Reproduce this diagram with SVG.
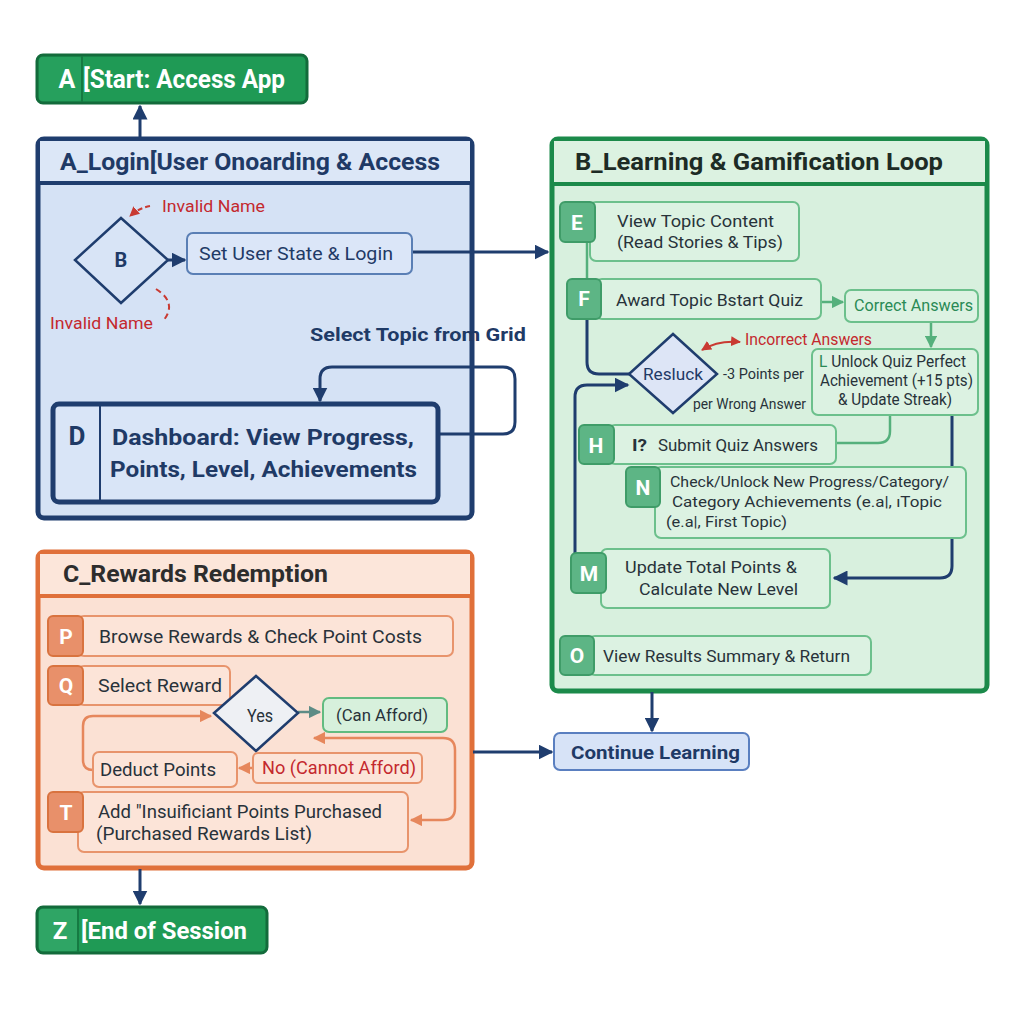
<svg xmlns="http://www.w3.org/2000/svg" width="1024" height="1024" viewBox="0 0 1024 1024">
<defs>
<style>
text{font-family:Roboto,"Liberation Sans",Arial,sans-serif}
.title{font-size:24px;font-weight:bold}
.bold{font-weight:bold}
.nv{fill:#1f3a66}
.dk{fill:#28323a}
.red{fill:#c4292e}
.wh{fill:#ffffff;font-weight:bold}
.c-nav{fill:none;stroke:#1f3d6e;stroke-width:3}
.c-grn{fill:none;stroke:#55b07c;stroke-width:2.5}
.c-org{fill:none;stroke:#e6875c;stroke-width:2.5}
.c-red{fill:none;stroke:#c93a32;stroke-width:2}
.gbox{fill:#dcf2e2;stroke:#6cc08c;stroke-width:2}
.gbadge{fill:#5db585;stroke:#3f9c68;stroke-width:2}
.obox{fill:#fce4d8;stroke:#e8946c;stroke-width:2}
.obadge{fill:#e8906a;stroke:#d9733f;stroke-width:2}
</style>
<marker id="an" viewBox="0 0 10 10" refX="9" refY="5" markerWidth="5" markerHeight="5" orient="auto-start-reverse"><path d="M0,0 L10,5 L0,10 z" fill="#1f3d6e"/></marker>
<marker id="ag" viewBox="0 0 10 10" refX="9" refY="5" markerWidth="5" markerHeight="5" orient="auto-start-reverse"><path d="M0,0 L10,5 L0,10 z" fill="#55b07c"/></marker>
<marker id="ao" viewBox="0 0 10 10" refX="9" refY="5" markerWidth="5" markerHeight="5" orient="auto-start-reverse"><path d="M0,0 L10,5 L0,10 z" fill="#e6875c"/></marker>
<marker id="ar" viewBox="0 0 10 10" refX="9" refY="5" markerWidth="5" markerHeight="5" orient="auto-start-reverse"><path d="M0,0 L10,5 L0,10 z" fill="#c93a32"/></marker>
<marker id="at" viewBox="0 0 10 10" refX="9" refY="5" markerWidth="5" markerHeight="5" orient="auto-start-reverse"><path d="M0,0 L10,5 L0,10 z" fill="#5d8c86"/></marker>
</defs>
<rect width="1024" height="1024" fill="#ffffff"/>

<!-- Containers -->
<g id="A_Login">
<rect x="38" y="139" width="434" height="379" rx="6" fill="#d5e2f5" stroke="#1f3d6e" stroke-width="5"/>
<rect x="40" y="141" width="430" height="42" fill="#dce7f7"/>
<line x1="38" y1="183" x2="472" y2="183" stroke="#1f3d6e" stroke-width="4"/>
<text x="60" y="170" class="title nv" textLength="380" lengthAdjust="spacingAndGlyphs">A_Login[User Onoarding &amp; Access</text>
</g>
<g id="B_Learning">
<rect x="552" y="139" width="435" height="552" rx="6" fill="#d8f0de" stroke="#1b8a4a" stroke-width="5"/>
<rect x="554" y="141" width="431" height="42" fill="#dcf2e1"/>
<line x1="552" y1="184" x2="987" y2="184" stroke="#1b8a4a" stroke-width="4"/>
<text x="575" y="170" class="title" fill="#1d2b25" textLength="368" lengthAdjust="spacingAndGlyphs">B_Learning &amp; Gamification Loop</text>
</g>
<g id="C_Rewards">
<rect x="38" y="552" width="434" height="316" rx="6" fill="#fbe1d4" stroke="#e0703a" stroke-width="5"/>
<rect x="40" y="554" width="430" height="42" fill="#fce6da"/>
<line x1="38" y1="596" x2="472" y2="596" stroke="#e0703a" stroke-width="4"/>
<text x="63" y="582" class="title" fill="#2d2d2d" textLength="265" lengthAdjust="spacingAndGlyphs">C_Rewards Redemption</text>
</g>

<!-- Connectors -->
<g id="connectors">
<path class="c-nav" d="M140 137 V106" marker-end="url(#an)"/>
<path class="c-nav" d="M168 260 H185" marker-end="url(#an)"/>
<path class="c-nav" d="M412 252 H548" marker-end="url(#an)"/>
<path class="c-nav" d="M438 434 H503 Q515 434 515 422 V379 Q515 367 503 367 H332 Q320 367 320 379 V401" marker-end="url(#an)"/>
<path class="c-red" d="M150 206 Q139 208 130 216" stroke-dasharray="5 3" marker-end="url(#ar)"/>
<path class="c-red" d="M156 289 Q178 303 163 321" stroke-dasharray="6 4"/>
<path class="c-grn" d="M587 242 V279"/>
<path class="c-grn" d="M821 302 H843" marker-end="url(#ag)"/>
<path class="c-grn" d="M931 322 V347" marker-end="url(#ag)"/>
<path class="c-grn" d="M890 415 V431 Q890 443 878 443 H837"/>
<path class="c-nav" d="M587 319 V362 Q587 374 599 374 H630"/>
<path class="c-nav" d="M575 553 V397 Q575 385 587 385 H628" marker-end="url(#an)"/>
<path class="c-nav" d="M952 415 V566 Q952 578 940 578 H834" marker-end="url(#an)"/>
<path class="c-red" d="M702 350 Q718 340 740 342" marker-start="url(#ar)" marker-end="url(#ar)"/>
<path class="c-nav" d="M652 692 V731" marker-end="url(#an)"/>
<path class="c-nav" d="M473 752 H552" marker-end="url(#an)"/>
<path class="c-nav" d="M140 869 V904" marker-end="url(#an)"/>
<path class="c-org" d="M93 770 Q83 770 83 760 V726 Q83 716 93 716 H211" marker-end="url(#ao)"/>
<path class="c-org" d="M314 738 H443 Q455 738 455 750 V808 Q455 820 443 820 H411" marker-start="url(#ao)" marker-end="url(#ao)"/>
<path class="c-org" d="M253 768 H239" marker-end="url(#ao)"/>
<path fill="none" stroke="#5d8c86" stroke-width="2.5" d="M298 712 H320" marker-end="url(#at)"/>
</g>

<!-- Start / End -->
<g id="A">
<rect x="37" y="55" width="270" height="48" rx="6" fill="#1f9a55" stroke="#136b3b" stroke-width="3"/>
<rect x="39" y="57" width="43" height="44" rx="4" fill="#26a05d"/>
<line x1="82" y1="56" x2="82" y2="102" stroke="#157a42" stroke-width="2"/>
<text x="67" y="88" class="wh" font-size="25" text-anchor="middle">A</text>
<text x="83" y="88" class="wh" font-size="25" textLength="202" lengthAdjust="spacingAndGlyphs">[Start: Access App</text>
</g>
<g id="Z">
<rect x="37" y="907" width="230" height="46" rx="6" fill="#1f9a55" stroke="#136b3b" stroke-width="3"/>
<rect x="39" y="909" width="39" height="42" rx="4" fill="#2fa565"/>
<line x1="78" y1="908" x2="78" y2="952" stroke="#157a42" stroke-width="2"/>
<text x="60" y="939" class="wh" font-size="24" text-anchor="middle">Z</text>
<text x="81" y="939" class="wh" font-size="24" textLength="166" lengthAdjust="spacingAndGlyphs">[End of Session</text>
</g>

<!-- A_Login nodes -->
<g id="B">
<polygon points="121,218 168,260 121,303 75,260" fill="#d8e4f6" stroke="#1f3d6e" stroke-width="2.5"/>
<text x="121" y="267" class="nv bold" font-size="20" text-anchor="middle">B</text>
</g>
<g id="invalid_labels">
<text x="162" y="212" class="red" font-size="17" textLength="103" lengthAdjust="spacingAndGlyphs">Invalid Name</text>
<text x="50" y="329" class="red" font-size="17" textLength="103" lengthAdjust="spacingAndGlyphs">Invalid Name</text>
</g>
<g id="C_set">
<rect x="187" y="233" width="225" height="41" rx="6" fill="#dbe6f8" stroke="#5a7fb5" stroke-width="2"/>
<text x="199" y="260" class="nv" font-size="19" textLength="194" lengthAdjust="spacingAndGlyphs">Set User State &amp; Login</text>
</g>
<text x="310" y="341" class="nv bold" font-size="19" textLength="216" lengthAdjust="spacingAndGlyphs">Select Topic from Grid</text>
<g id="D">
<rect x="53" y="404" width="385" height="98" rx="6" fill="#d9e5f7" stroke="#1f3d6e" stroke-width="5"/>
<line x1="100" y1="406" x2="100" y2="500" stroke="#1f3d6e" stroke-width="2"/>
<text x="77" y="445" class="nv bold" font-size="26" text-anchor="middle">D</text>
<text x="112" y="445" class="nv bold" font-size="22" textLength="302" lengthAdjust="spacingAndGlyphs">Dashboard: View Progress,</text>
<text x="110" y="477" class="nv bold" font-size="22" textLength="307" lengthAdjust="spacingAndGlyphs">Points, Level, Achievements</text>
</g>

<!-- B_Learning nodes -->
<g id="E">
<rect x="590" y="202" width="209" height="59" rx="6" class="gbox"/>
<rect x="560" y="202" width="35" height="40" rx="5" class="gbadge"/>
<text x="577" y="230" class="wh" font-size="21" text-anchor="middle">E</text>
<text x="617" y="227" class="dk" font-size="17" textLength="157" lengthAdjust="spacingAndGlyphs">View Topic Content</text>
<text x="617" y="248" class="dk" font-size="17" textLength="166" lengthAdjust="spacingAndGlyphs">(Read Stories &amp; Tips)</text>
</g>
<g id="F">
<rect x="596" y="279" width="225" height="40" rx="6" class="gbox"/>
<rect x="567" y="279" width="34" height="40" rx="5" class="gbadge"/>
<text x="584" y="306" class="wh" font-size="21" text-anchor="middle">F</text>
<text x="616" y="306" class="dk" font-size="17" textLength="187" lengthAdjust="spacingAndGlyphs">Award Topic Bstart Quiz</text>
</g>
<g id="Correct">
<rect x="845" y="290" width="133" height="32" rx="6" class="gbox"/>
<text x="854" y="311" font-size="16" fill="#2a8a55" textLength="119" lengthAdjust="spacingAndGlyphs">Correct Answers</text>
</g>
<g id="Resluck">
<polygon points="673,334 717,374 673,413 629,374" fill="#dde5f6" stroke="#1f3d6e" stroke-width="2.5"/>
<text x="643" y="380" class="nv" font-size="17" textLength="60" lengthAdjust="spacingAndGlyphs">Resluck</text>
</g>
<g id="resluck_labels">
<text x="745" y="345" class="red" font-size="16" textLength="127" lengthAdjust="spacingAndGlyphs">Incorrect Answers</text>
<text x="723" y="379" class="dk" font-size="14" textLength="81" lengthAdjust="spacingAndGlyphs">-3 Points per</text>
<text x="693" y="409" class="dk" font-size="14" textLength="113" lengthAdjust="spacingAndGlyphs">per Wrong Answer</text>
</g>
<g id="L">
<rect x="812" y="349" width="166" height="66" rx="6" class="gbox"/>
<text x="819" y="367" class="dk" font-size="16" textLength="147" lengthAdjust="spacingAndGlyphs"><tspan fill="#2a8a55">L</tspan> Unlock Quiz Perfect</text>
<text x="820" y="386" class="dk" font-size="16" textLength="153" lengthAdjust="spacingAndGlyphs">Achievement (+15 pts)</text>
<text x="838" y="405" class="dk" font-size="16" textLength="114" lengthAdjust="spacingAndGlyphs">&amp; Update Streak)</text>
</g>
<g id="H">
<rect x="609" y="425" width="227" height="39" rx="6" class="gbox"/>
<rect x="579" y="425" width="35" height="39" rx="5" class="gbadge"/>
<text x="596" y="453" class="wh" font-size="21" text-anchor="middle">H</text>
<text x="632" y="451" class="dk" font-size="17" font-weight="bold" textLength="15" lengthAdjust="spacingAndGlyphs">I?</text>
<text x="658" y="451" class="dk" font-size="17" textLength="160" lengthAdjust="spacingAndGlyphs">Submit Quiz Answers</text>
</g>
<g id="N">
<rect x="655" y="467" width="311" height="71" rx="6" class="gbox"/>
<rect x="626" y="467" width="34" height="40" rx="5" class="gbadge"/>
<text x="643" y="495" class="wh" font-size="21" text-anchor="middle">N</text>
<text x="670" y="487" class="dk" font-size="15.5" textLength="279" lengthAdjust="spacingAndGlyphs">Check/Unlock New Progress/Category/</text>
<text x="672" y="507" class="dk" font-size="15.5" textLength="270" lengthAdjust="spacingAndGlyphs">Category Achievements (e.a|, ıTopic</text>
<text x="666" y="527" class="dk" font-size="15.5" textLength="121" lengthAdjust="spacingAndGlyphs">(e.a|, First Topic)</text>
</g>
<g id="M">
<rect x="601" y="549" width="229" height="59" rx="6" class="gbox"/>
<rect x="571" y="553" width="35" height="40" rx="5" class="gbadge"/>
<text x="589" y="581" class="wh" font-size="21" text-anchor="middle">M</text>
<text x="625" y="573" class="dk" font-size="17" textLength="172" lengthAdjust="spacingAndGlyphs">Update Total Points &amp;</text>
<text x="639" y="595" class="dk" font-size="17" textLength="159" lengthAdjust="spacingAndGlyphs">Calculate New Level</text>
</g>
<g id="O">
<rect x="589" y="636" width="282" height="39" rx="6" class="gbox"/>
<rect x="560" y="636" width="34" height="39" rx="5" class="gbadge"/>
<text x="577" y="663" class="wh" font-size="21" text-anchor="middle">O</text>
<text x="603" y="662" class="dk" font-size="17" textLength="247" lengthAdjust="spacingAndGlyphs">View Results Summary &amp; Return</text>
</g>
<g id="Continue">
<rect x="554" y="733" width="195" height="37" rx="6" fill="#d7e3f7" stroke="#5a7fc0" stroke-width="2"/>
<text x="571" y="759" class="nv bold" font-size="19" textLength="169" lengthAdjust="spacingAndGlyphs">Continue Learning</text>
</g>

<!-- C_Rewards nodes -->
<g id="P">
<rect x="78" y="616" width="375" height="40" rx="6" class="obox"/>
<rect x="48" y="616" width="35" height="40" rx="5" class="obadge"/>
<text x="66" y="644" class="wh" font-size="21" text-anchor="middle">P</text>
<text x="99" y="643" class="dk" font-size="18" textLength="323" lengthAdjust="spacingAndGlyphs">Browse Rewards &amp; Check Point Costs</text>
</g>
<g id="Q">
<rect x="78" y="666" width="152" height="39" rx="6" class="obox"/>
<rect x="48" y="666" width="35" height="39" rx="5" class="obadge"/>
<text x="66" y="693" class="wh" font-size="21" text-anchor="middle">Q</text>
<text x="98" y="692" class="dk" font-size="18" textLength="124" lengthAdjust="spacingAndGlyphs">Select Reward</text>
</g>
<g id="Yes">
<polygon points="256,676 298,713 256,751 214,713" fill="#eef0f4" stroke="#1f3d6e" stroke-width="2.5"/>
<text x="247" y="722" class="dk" font-size="18" textLength="26" lengthAdjust="spacingAndGlyphs">Yes</text>
</g>
<g id="CanAfford">
<rect x="323" y="698" width="124" height="34" rx="6" fill="#d7f0dc" stroke="#62bb80" stroke-width="2"/>
<text x="336" y="721" class="dk" font-size="17" textLength="92" lengthAdjust="spacingAndGlyphs">(Can Afford)</text>
</g>
<g id="NoAfford">
<rect x="253" y="753" width="169" height="30" rx="5" class="obox"/>
<text x="262" y="774" class="red" font-size="18" textLength="154" lengthAdjust="spacingAndGlyphs">No (Cannot Afford)</text>
</g>
<g id="Deduct">
<rect x="93" y="752" width="144" height="35" rx="6" class="obox"/>
<text x="100" y="776" class="dk" font-size="18" textLength="116" lengthAdjust="spacingAndGlyphs">Deduct Points</text>
</g>
<g id="T">
<rect x="78" y="792" width="330" height="60" rx="6" class="obox"/>
<rect x="48" y="792" width="35" height="40" rx="5" class="obadge"/>
<text x="66" y="820" class="wh" font-size="21" text-anchor="middle">T</text>
<text x="98" y="818" class="dk" font-size="18" textLength="284" lengthAdjust="spacingAndGlyphs">Add "Insuificiant Points Purchased</text>
<text x="96" y="840" class="dk" font-size="18" textLength="216" lengthAdjust="spacingAndGlyphs">(Purchased Rewards List)</text>
</g>
</svg>
